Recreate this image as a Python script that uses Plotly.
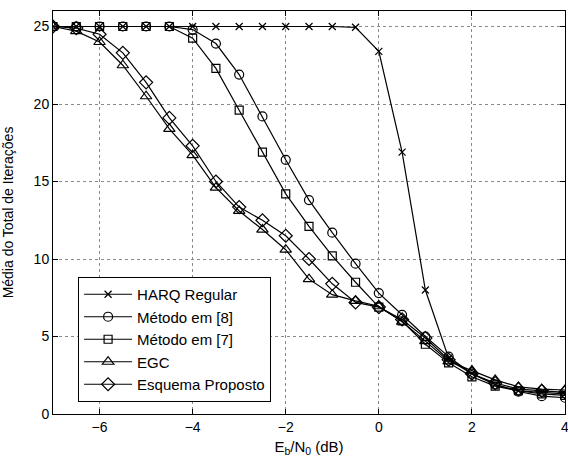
import plotly.graph_objects as go

ebn0 = [-7, -6.5, -6, -5.5, -5, -4.5, -4, -3.5, -3, -2.5, -2, -1.5, -1, -0.5,
        0, 0.5, 1, 1.5, 2, 2.5, 3, 3.5, 4]

harq_regular = [25, 25, 25, 25, 25, 25, 25, 25, 25, 25, 25, 25, 25, 24.95,
                23.4, 16.9, 8.0, 3.6, 2.6, 1.9, 1.5, 1.4, 1.3]
metodo_8 = [25, 25, 25, 25, 25, 25, 24.8, 23.9, 21.9, 19.2, 16.4, 13.8, 11.7, 9.7,
            7.8, 6.4, 5.0, 3.7, 2.6, 1.9, 1.45, 1.15, 1.05]
metodo_7 = [25, 25, 25, 25, 25, 25, 24.25, 22.3, 19.6, 16.9, 14.2, 12.1, 10.2, 8.5,
            6.9, 6.0, 4.5, 3.3, 2.4, 1.8, 1.5, 1.3, 1.2]
egc = [25, 24.7, 24.0, 22.5, 20.5, 18.4, 16.7, 14.6, 13.1, 11.9, 10.6, 8.7, 7.7, 7.3,
       6.95, 5.95, 4.7, 3.4, 2.8, 2.2, 1.75, 1.6, 1.55]
esquema_proposto = [25, 24.9, 24.5, 23.3, 21.4, 19.1, 17.3, 15.0, 13.35, 12.5, 11.5, 10.0, 8.4, 7.2,
                    6.9, 6.1, 4.9, 3.5, 2.6, 2.0, 1.6, 1.5, 1.4]

series = [
    ("HARQ Regular", harq_regular, "x-thin-open", 7),
    ("Método em [8]", metodo_8, "circle-open", 9),
    ("Método em [7]", metodo_7, "square-open", 8),
    ("EGC", egc, "triangle-up-open", 10),
    ("Esquema Proposto", esquema_proposto, "diamond-open", 10),
]

fig = go.Figure()
for name, values, symbol, size in series:
    fig.add_trace(
        go.Scatter(
            x=ebn0,
            y=values,
            name=name,
            mode="lines+markers",
            line=dict(color="black", width=1.2),
            marker=dict(symbol=symbol, size=size, color="black", line=dict(color="black", width=1.2)),
        )
    )

axis_style = dict(
    showline=True,
    linecolor="black",
    linewidth=1,
    mirror="ticks",
    ticks="inside",
    ticklen=5,
    tickcolor="black",
    showgrid=True,
    gridcolor="#8a8a8a",
    griddash="dot",
    gridwidth=1,
    zeroline=False,
    automargin=False,
    ticklabeloverflow="allow",
    tickfont=dict(size=14, color="black"),
)

fig.update_xaxes(
    range=[-7, 4],
    dtick=2,
    tick0=0,
    title=dict(text="E<sub>b</sub>/N<sub>0</sub> (dB)", font=dict(size=15, color="black"), standoff=7),
    **axis_style,
)
fig.update_yaxes(
    range=[0, 26],
    dtick=5,
    title=dict(text="Média do Total de Iterações", font=dict(size=14, color="black"), standoff=20),
    **axis_style,
)

fig.update_layout(
    width=568,
    height=459,
    margin=dict(l=53, r=3, t=11, b=45),
    paper_bgcolor="white",
    plot_bgcolor="white",
    font=dict(family="Liberation Sans, Arial, sans-serif", size=14, color="black"),
    showlegend=True,
    legend=dict(
        x=0.049,
        y=0.34,
        xanchor="left",
        yanchor="top",
        bgcolor="white",
        bordercolor="black",
        borderwidth=1,
        font=dict(size=15, color="black"),
        tracegroupgap=0,
        itemwidth=48,
    ),
)

# drop the default body margin so the figure fills the window exactly
fig.write_html(
    "out.html",
    config={"displayModeBar": False},
    post_script="document.body.style.margin='0';document.documentElement.style.overflow='hidden';",
)
